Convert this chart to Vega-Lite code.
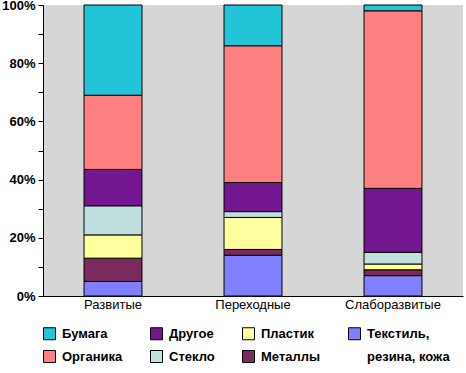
{
  "$schema": "https://vega.github.io/schema/vega-lite/v6.json",
  "width": 420,
  "height": 291,
  "autosize": {"type": "none"},
  "padding": {"left": 43, "top": 5, "right": 3, "bottom": 77},
  "background": "white",
  "config": {
    "view": {"fill": "#d6d6d6", "stroke": null},
    "font": "Liberation Sans"
  },
  "data": {
    "values": [
      {"region": "Развитые", "type": "Текстиль, резина, кожа", "ord": 1, "pct": 5},
      {"region": "Развитые", "type": "Металлы", "ord": 2, "pct": 8},
      {"region": "Развитые", "type": "Пластик", "ord": 3, "pct": 8},
      {"region": "Развитые", "type": "Стекло", "ord": 4, "pct": 10},
      {"region": "Развитые", "type": "Другое", "ord": 5, "pct": 12.5},
      {"region": "Развитые", "type": "Органика", "ord": 6, "pct": 25.5},
      {"region": "Развитые", "type": "Бумага", "ord": 7, "pct": 31},
      {"region": "Переходные", "type": "Текстиль, резина, кожа", "ord": 1, "pct": 14},
      {"region": "Переходные", "type": "Металлы", "ord": 2, "pct": 2},
      {"region": "Переходные", "type": "Пластик", "ord": 3, "pct": 11},
      {"region": "Переходные", "type": "Стекло", "ord": 4, "pct": 2},
      {"region": "Переходные", "type": "Другое", "ord": 5, "pct": 10},
      {"region": "Переходные", "type": "Органика", "ord": 6, "pct": 47},
      {"region": "Переходные", "type": "Бумага", "ord": 7, "pct": 14},
      {"region": "Слаборазвитые", "type": "Текстиль, резина, кожа", "ord": 1, "pct": 7},
      {"region": "Слаборазвитые", "type": "Металлы", "ord": 2, "pct": 2},
      {"region": "Слаборазвитые", "type": "Пластик", "ord": 3, "pct": 2},
      {"region": "Слаборазвитые", "type": "Стекло", "ord": 4, "pct": 4},
      {"region": "Слаборазвитые", "type": "Другое", "ord": 5, "pct": 22},
      {"region": "Слаборазвитые", "type": "Органика", "ord": 6, "pct": 61},
      {"region": "Слаборазвитые", "type": "Бумага", "ord": 7, "pct": 2}
    ]
  },
  "mark": {"type": "bar", "stroke": "black", "strokeWidth": 1},
  "encoding": {
    "x": {
      "field": "region",
      "type": "nominal",
      "sort": ["Развитые", "Переходные", "Слаборазвитые"],
      "scale": {"paddingInner": 0.586, "paddingOuter": 0.293},
      "axis": {
        "title": null,
        "labelAngle": 0,
        "labelFontSize": 13,
        "labelColor": "black",
        "labelPadding": 2,
        "ticks": false,
        "domainColor": "black",
        "domainWidth": 1
      }
    },
    "y": {
      "field": "pct",
      "type": "quantitative",
      "stack": "zero",
      "scale": {"domain": [0, 100], "nice": false},
      "axis": {
        "title": null,
        "values": [0, 10, 20, 30, 40, 50, 60, 70, 80, 90, 100],
        "labelExpr": "datum.value % 20 == 0 ? datum.value + '%' : ''",
        "labelFontSize": 13,
        "labelFontWeight": "bold",
        "labelColor": "black",
        "labelPadding": 3,
        "tickSize": 5,
        "tickColor": "black",
        "domainColor": "black",
        "grid": false
      }
    },
    "order": {"field": "ord", "type": "quantitative", "sort": "ascending"},
    "color": {
      "field": "type",
      "type": "nominal",
      "scale": {
        "domain": ["Бумага", "Другое", "Пластик", "Текстиль, резина, кожа", "Органика", "Стекло", "Металлы", "резина, кожа"],
        "range": ["#22c4d8", "#741690", "#ffffa0", "#8080ff", "#ff8080", "#c0e0e0", "#7a2a5c", "#ffffff"]
      },
      "legend": {
        "title": null,
        "orient": "none",
        "legendX": 0,
        "legendY": 322,
        "direction": "horizontal",
        "columns": 4,
        "columnPadding": 25,
        "rowPadding": 6,
        "symbolType": "square",
        "symbolSize": 144,
        "symbolStrokeColor": "black",
        "symbolStrokeWidth": 1,
        "symbolOpacity": 1,
        "labelFontSize": 13,
        "labelFontWeight": "bold",
        "labelColor": "black",
        "labelOffset": 6,
        "labelLimit": 200,
        "labelExpr": "datum.label == 'Текстиль, резина, кожа' ? 'Текстиль,' : datum.label",
        "encode": {
          "symbols": {
            "update": {
              "opacity": {"signal": "datum.value == 'резина, кожа' ? 0 : 1"}
            }
          }
        }
      }
    }
  }
}
